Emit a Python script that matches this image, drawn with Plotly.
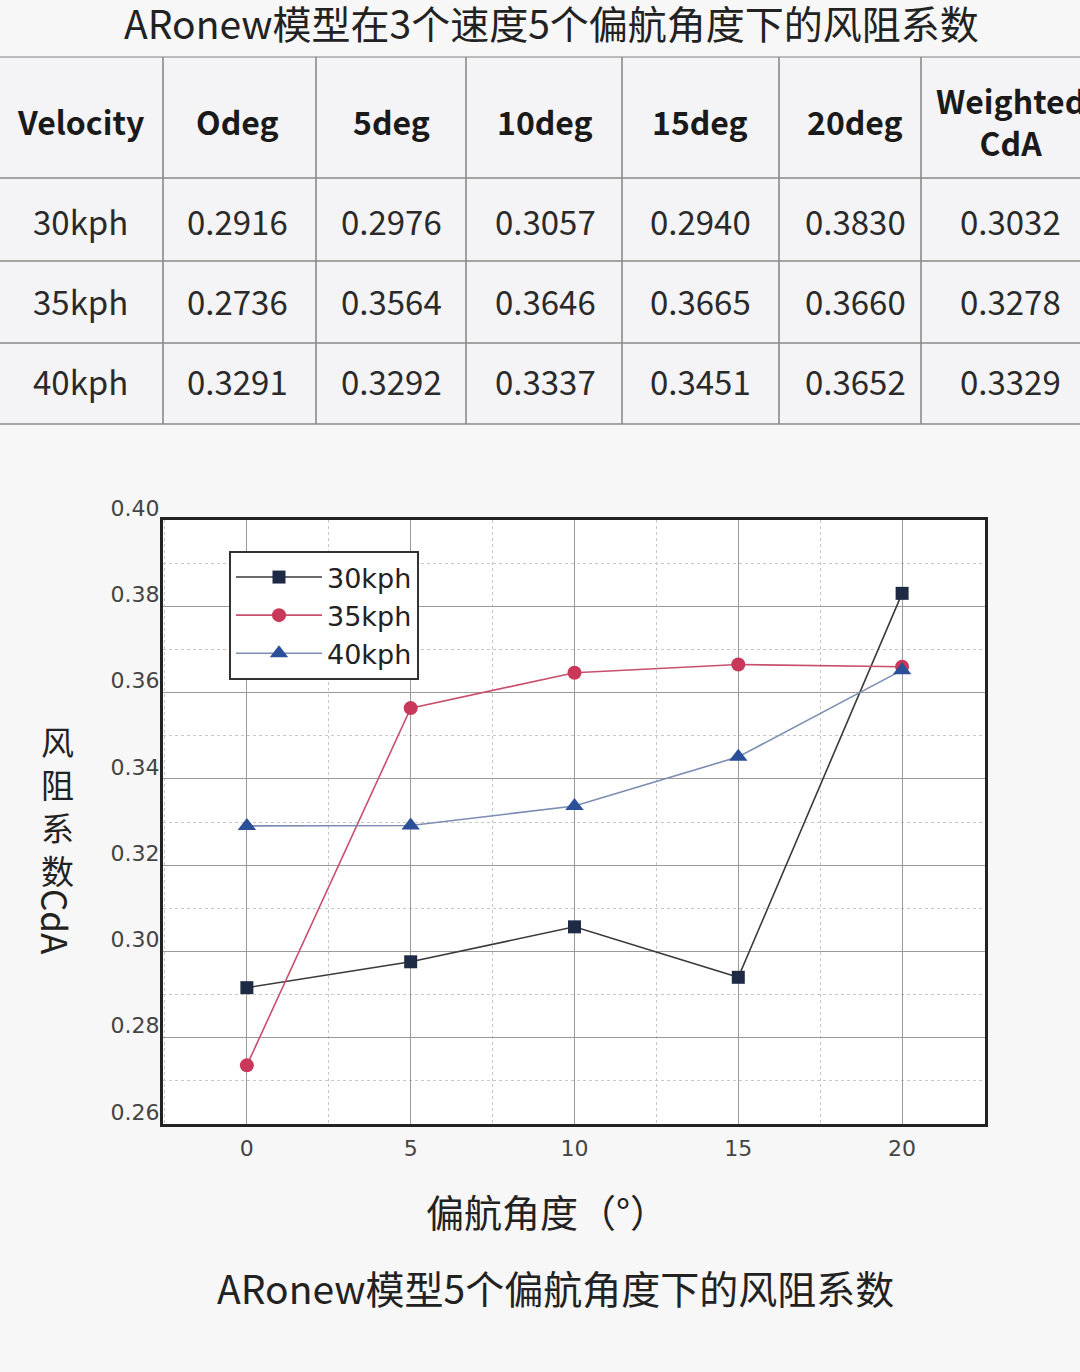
import plotly.graph_objects as go

W, H = 1080, 1372

# ---------------- data ----------------
yaw_angles = [0, 5, 10, 15, 20]
series_names = ["30kph", "35kph", "40kph"]
cda_30kph = [0.2916, 0.2976, 0.3057, 0.2940, 0.3830]
cda_35kph = [0.2736, 0.3564, 0.3646, 0.3665, 0.3660]
cda_40kph = [0.3291, 0.3292, 0.3337, 0.3451, 0.3652]
weighted_cda = [0.3032, 0.3278, 0.3329]

table_header = ["Velocity", "Odeg", "5deg", "10deg", "15deg", "20deg", "Weighted<br>CdA"]
y_ticks = [0.26, 0.28, 0.30, 0.32, 0.34, 0.36, 0.38, 0.40]
x_ticks = [0, 5, 10, 15, 20]

title_text = "ARonew模型在3个速度5个偏航角度下的风阻系数"
caption_text = "ARonew模型5个偏航角度下的风阻系数"
x_title = "偏航角度（°）"
y_title_cn = "风阻系数"
y_title_en = "CdA"

# ---------------- layout helpers ----------------
def px(x):
    return x / W

def py(y):
    return 1 - y / H

CJK = "Noto Sans CJK SC"
SANS = "DejaVu Sans"

fig = go.Figure()

styles = {
    "30kph": dict(line=dict(color="#3a3a3a", width=1.6),
                  marker=dict(symbol="square", size=13, color="#1f2b45")),
    "35kph": dict(line=dict(color="#c9506c", width=1.6),
                  marker=dict(symbol="circle", size=14, color="#c8385a")),
    "40kph": dict(line=dict(color="#7d8cb3", width=1.6),
                  marker=dict(symbol="triangle-up", size=16, color="#2c4f9a")),
}
for name, vals in zip(series_names, [cda_30kph, cda_35kph, cda_40kph]):
    fig.add_trace(go.Scatter(x=yaw_angles, y=vals, mode="lines+markers", name=name,
                             **styles[name]))

# ---------------- table (shapes + annotations) ----------------
col_edges = [0, 163, 316, 466, 622, 779, 921, 1080]
col_centers = [80, 237, 391, 545, 700, 855, 1010]
row_edges = [57, 178, 261, 343, 424]
row_centers = [121, 221, 301, 381]

shapes = []
shapes.append(dict(type="rect", xref="paper", yref="paper", x0=0, x1=1,
                   y0=py(row_edges[-1]), y1=py(row_edges[0]),
                   fillcolor="#f4f4f6", line=dict(width=0), layer="below"))
for i, ye in enumerate(row_edges):
    shapes.append(dict(type="line", xref="paper", yref="paper", x0=0, x1=1,
                       y0=py(ye), y1=py(ye),
                       line=dict(color="#a8a8a8" if i == 0 else "#8a8a8a", width=1.6)))
for xe in col_edges[1:-1]:
    shapes.append(dict(type="line", xref="paper", yref="paper", x0=px(xe), x1=px(xe),
                       y0=py(row_edges[-1]), y1=py(row_edges[0]),
                       line=dict(color="#8a8a8a", width=1.6)))

annotations = []

def add_text(text, x, y, size, color="#222", family=CJK, **kw):
    annotations.append(dict(text=text, x=px(x), y=py(y), xref="paper", yref="paper",
                            xanchor="center", yanchor="middle", showarrow=False,
                            font=dict(family=family, size=size, color=color), **kw))

add_text(title_text, 551, 22, 39)
for h, cx in zip(table_header, col_centers):
    add_text("<b>" + h + "</b>", cx, row_centers[0], 32, color="#1a1a1a")
for r, vals in enumerate([cda_30kph, cda_35kph, cda_40kph]):
    row = [series_names[r]] + ["%.4f" % v for v in vals] + ["%.4f" % weighted_cda[r]]
    for txt, cx in zip(row, col_centers):
        add_text(txt, cx, row_centers[r + 1], 33, color="#2a2a2a")

# chart texts
add_text("<br>".join(list(y_title_cn)), 57, 806, 33, align="center")
add_text(y_title_en, 57, 922, 35, textangle=90)
add_text(x_title, 547, 1210, 38)
add_text(caption_text, 555, 1287, 39)

fig.update_layout(
    width=W, height=H,
    margin=dict(l=0, r=0, t=0, b=0, autoexpand=False),
    paper_bgcolor="#f7f7f7",
    plot_bgcolor="#ffffff",
    shapes=shapes,
    annotations=annotations,
    showlegend=True,
    legend=dict(x=px(229), y=py(551), xanchor="left", yanchor="top",
                bgcolor="#ffffff", bordercolor="#333", borderwidth=2,
                font=dict(family=SANS, size=27, color="#222"),
                itemwidth=86, tracegroupgap=0),
    xaxis=dict(domain=[px(163), px(985)], range=[-2.56, 22.53],
               tickvals=x_ticks, showgrid=True, gridcolor="#9a9a9a", gridwidth=1.2,
               minor=dict(dtick=2.5, showgrid=True, gridcolor="#c8c8c8", gridwidth=1, griddash="dot"),
               showline=True, linecolor="#222", linewidth=3, mirror=True,
               ticks="", zeroline=False, automargin=False,
               tickfont=dict(family=SANS, size=22, color="#444"), ticklabelstandoff=3),
    yaxis=dict(domain=[py(1124), py(520)], range=[0.26, 0.40],
               tickvals=y_ticks, ticktext=["%.2f" % t for t in y_ticks],
               showgrid=True, gridcolor="#9a9a9a", gridwidth=1.2,
               minor=dict(dtick=0.01, showgrid=True, gridcolor="#c8c8c8", gridwidth=1, griddash="dot"),
               showline=True, linecolor="#222", linewidth=3, mirror=True,
               ticks="", zeroline=False, automargin=False, ticklabelshift=-12, ticklabelstandoff=-4,
               tickfont=dict(family=SANS, size=22, color="#444")),
)

fig.write_html("out.html")
